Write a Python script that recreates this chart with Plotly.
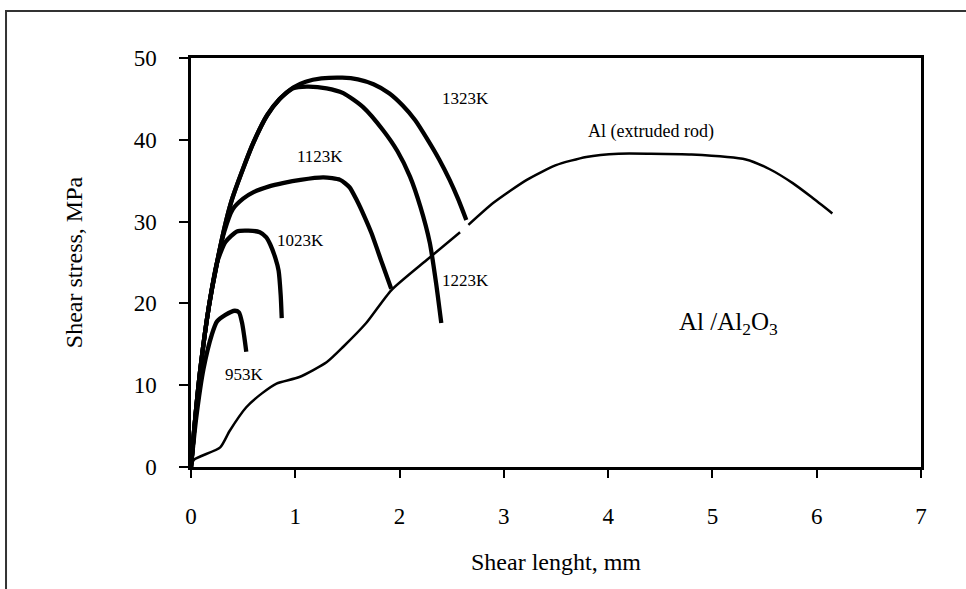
import plotly.graph_objects as go

# ---- data ----
x_1323 = [0, 0.03, 0.09, 0.17, 0.25, 0.32, 0.39, 0.5, 0.6, 0.73, 0.85, 0.98, 1.1, 1.25, 1.45, 1.6, 1.75, 1.9, 2.03, 2.15, 2.27, 2.38, 2.48, 2.56, 2.64]
y_1323 = [0, 4.5, 12, 19.5, 25, 29.2, 32.6, 36.5, 39.7, 43, 45, 46.4, 47.1, 47.5, 47.6, 47.4, 46.8, 45.7, 44.2, 42.4, 40.0, 37.6, 35.1, 32.8, 30.2]

x_1223 = [0, 0.03, 0.09, 0.17, 0.25, 0.32, 0.39, 0.5, 0.6, 0.73, 0.85, 0.98, 1.11, 1.3, 1.46, 1.65, 1.84, 1.98, 2.1, 2.2, 2.29, 2.35, 2.4]
y_1223 = [0, 4.5, 12, 19.5, 25, 29.2, 32.6, 36.5, 39.7, 43, 45, 46.3, 46.5, 46.3, 45.7, 44.0, 41.2, 38.6, 35.5, 31.8, 27.4, 22.5, 17.6]

x_1123 = [0, 0.03, 0.09, 0.17, 0.25, 0.32, 0.4, 0.5, 0.6, 0.75, 0.88, 1.05, 1.27, 1.43, 1.52, 1.59, 1.66, 1.73, 1.83, 1.92]
y_1123 = [0, 4.5, 12, 19.5, 25, 28.8, 31.5, 32.8, 33.6, 34.3, 34.7, 35.1, 35.4, 35.1, 34.2, 32.6, 30.7, 28.6, 25.0, 21.8]

x_1023 = [0, 0.03, 0.09, 0.17, 0.25, 0.33, 0.44, 0.55, 0.66, 0.72, 0.76, 0.81, 0.84, 0.86, 0.87]
y_1023 = [0, 4.5, 12, 19.5, 25, 27.5, 28.8, 28.9, 28.7, 28.1, 27.2, 25.5, 24.0, 21.0, 18.2]

x_953 = [0, 0.05, 0.12, 0.2, 0.25, 0.33, 0.42, 0.46, 0.49, 0.51, 0.53]
y_953 = [0, 6, 12, 16.2, 17.8, 18.6, 19.1, 18.9, 17.6, 16.0, 14.1]

x_al = [0, 0.03, 0.28, 0.37, 0.53, 0.68, 0.82, 1.04, 1.30, 1.46, 1.68, 1.92, 2.26, 2.58, None, 2.66, 2.9, 3.22, 3.5, 3.79, 4.1, 4.4, 4.8, 5.32, 5.55, 5.77, 5.95, 6.15]
y_al = [0, 0.9, 2.4, 4.4, 7.3, 9.0, 10.2, 11.0, 12.8, 14.7, 17.6, 21.6, 25.3, 28.7, None, 29.6, 32.3, 35.1, 36.9, 37.9, 38.3, 38.3, 38.2, 37.6, 36.4, 34.7, 33.0, 31.0]

x_ticks = [0, 1, 2, 3, 4, 5, 6, 7]
y_ticks = [0, 10, 20, 30, 40, 50]

labels = ["1323K", "Al (extruded rod)", "1123K", "1023K", "1223K", "953K", "Al /Al<sub>2</sub>O<sub>3</sub>"]
label_x = [2.63, 4.41, 1.24, 1.05, 2.63, 0.51, 5.15]
label_y = [45.0, 41.0, 38.0, 27.7, 22.8, 11.3, 17.6]
label_size = [17, 18, 17, 17, 17, 17, 25]

FONT = "Liberation Serif, Times New Roman, serif"

fig = go.Figure()
thick = [(x_1323, y_1323), (x_1223, y_1223), (x_1123, y_1123), (x_1023, y_1023), (x_953, y_953)]
for xs, ys in thick:
    fig.add_trace(go.Scatter(x=xs, y=ys, mode="lines",
                             line=dict(color="black", width=4.3, shape="spline", smoothing=0.6),
                             showlegend=False, hoverinfo="skip"))
fig.add_trace(go.Scatter(x=x_al, y=y_al, mode="lines", connectgaps=False,
                         line=dict(color="black", width=2.5, shape="spline", smoothing=0.6),
                         showlegend=False, hoverinfo="skip"))

for t, lx, ly, s in zip(labels, label_x, label_y, label_size):
    fig.add_annotation(x=lx, y=ly, text=t, showarrow=False,
                       font=dict(family=FONT, size=s, color="black"))

# outer frame of the figure (decorative)
fig.add_shape(type="rect", xref="paper", yref="paper",
              x0=-0.2534, x1=1.3, y0=-0.5, y1=1.115,
              line=dict(color="#333333", width=2), fillcolor="rgba(0,0,0,0)", layer="above")

fig.update_layout(
    width=966, height=589,
    margin=dict(l=191, r=45, t=58, b=122),
    paper_bgcolor="white", plot_bgcolor="white",
    font=dict(family=FONT, color="black"),
    showlegend=False,
)
fig.update_xaxes(range=[0, 7], tickvals=x_ticks, ticktext=[str(v) for v in x_ticks],
                 automargin=False,
                 showgrid=False, zeroline=False, showline=True, linecolor="black", linewidth=2.5,
                 mirror=True, ticks="outside", ticklen=8, tickwidth=2, tickcolor="black",
                 ticklabelstandoff=19,
                 tickfont=dict(family=FONT, size=23, color="black"),
                 title=dict(text="Shear lenght, mm", font=dict(family=FONT, size=24, color="black"), standoff=25))
fig.update_yaxes(range=[0, 50], tickvals=y_ticks, ticktext=[str(v) for v in y_ticks],
                 automargin=False,
                 showgrid=False, zeroline=False, showline=True, linecolor="black", linewidth=2.5,
                 mirror=True, ticks="outside", ticklen=9, tickwidth=2, tickcolor="black",
                 ticklabelstandoff=18,
                 tickfont=dict(family=FONT, size=23, color="black"),
                 title=dict(text="Shear stress, MPa", font=dict(family=FONT, size=24, color="black"), standoff=45))

fig.write_html("out.html", config={"displayModeBar": False},
               post_script="document.body.style.margin='0';document.body.style.overflow='hidden';")
